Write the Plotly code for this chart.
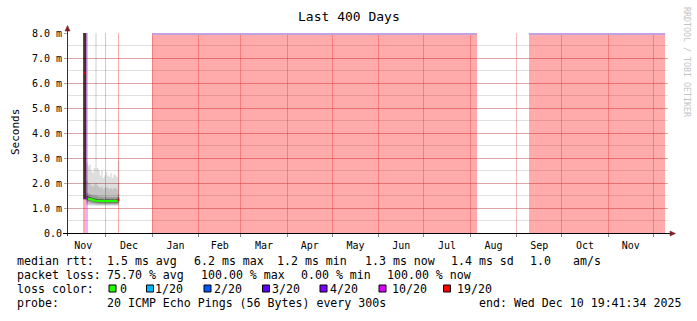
import pandas as pd
import plotly.graph_objects as go

nan = float("nan")

# ---------------- data ----------------
RANGE_START = "2024-11-05 19:41:34"
RANGE_END = "2025-12-10 19:41:34"

# daily slots with measurements
day_starts = list(pd.date_range("2024-11-16", "2024-12-09", freq="D").strftime("%Y-%m-%d"))
slots_end = "2024-12-10"

median_ms = [6.4, nan, 1.39, 1.37, 1.36, 1.34, 1.32, 1.30, 1.29, 1.29, 1.28, 1.29,
             1.28, 1.27, 1.26, 1.28, 1.28, 1.27, 1.28, 1.29, 1.27, 1.28, 1.29, 1.33]
loss_of_20 = [19, 10, 10, 0, 0, 0, 0, 0, 0, 0, 0, 0,
              0, 0, 0, 0, 0, 0, 0, 0, 0, 0, 0, 19]

smoke_min_ms = [1.35, 1.35, 1.12, 1.11, 1.10, 1.10, 1.10, 1.10, 1.10, 1.09, 1.09, 1.09,
                1.09, 1.09, 1.09, 1.09, 1.09, 1.09, 1.09, 1.09, 1.09, 1.09, 1.09, 1.10]
smoke_p10_ms = [1.35, 1.35, 1.16, 1.15, 1.15, 1.14, 1.14, 1.13, 1.13, 1.12, 1.12, 1.12,
                1.12, 1.12, 1.12, 1.12, 1.12, 1.12, 1.12, 1.12, 1.12, 1.12, 1.12, 1.14]
smoke_p25_ms = [1.35, 1.35, 1.25, 1.24, 1.22, 1.20, 1.19, 1.18, 1.18, 1.17, 1.17, 1.17,
                1.16, 1.16, 1.16, 1.16, 1.16, 1.16, 1.16, 1.16, 1.16, 1.16, 1.16, 1.20]
core_lo_ms = [1.35, 1.35, 1.33, 1.31, 1.30, 1.28, 1.26, 1.24, 1.23, 1.23, 1.22, 1.22,
              1.22, 1.21, 1.20, 1.22, 1.22, 1.21, 1.22, 1.22, 1.21, 1.22, 1.22, 1.27]
core_hi_ms = [12, 12, 1.48, 1.46, 1.44, 1.42, 1.40, 1.38, 1.37, 1.36, 1.35, 1.36,
              1.35, 1.34, 1.33, 1.35, 1.35, 1.34, 1.35, 1.36, 1.34, 1.35, 1.36, 1.42]
smoke_p75_ms = [12, 12, 1.60, 1.58, 1.55, 1.52, 1.50, 1.50, 1.50, 1.48, 1.46, 1.45,
                1.46, 1.44, 1.45, 1.46, 1.45, 1.44, 1.45, 1.44, 1.45, 1.45, 1.44, 1.55]
smoke_p90_ms = [12, 12, 2.10, 2.00, 2.00, 1.90, 1.85, 1.95, 2.00, 1.90, 1.85, 1.80,
                1.85, 1.75, 1.80, 1.85, 1.80, 1.75, 1.80, 1.75, 1.80, 1.80, 1.75, 2.00]
smoke_max_ms = [12, 12, 2.80, 2.70, 2.75, 2.50, 2.40, 2.60, 9.50, 2.60, 2.50, 2.30,
                2.50, 2.20, 2.30, 2.45, 2.30, 2.25, 2.40, 2.20, 2.35, 2.30, 2.25, 2.90]

# periods with 100 % packet loss
full_loss_start = ["2025-01-01 00:00", "2025-09-09 00:00"]
full_loss_end = ["2025-08-05 12:00", "2025-12-09 00:00"]

# legend
loss_levels = [0, 1, 2, 3, 4, 10, 19]
loss_labels = ["0", "1/20", "2/20", "3/20", "4/20", "10/20", "19/20"]
loss_colors = ["#26ff00", "#00b8ff", "#0059ff", "#5e00ff", "#7e00ff", "#dd00ff", "#ff0000"]

y_tickvals = [0, 1, 2, 3, 4, 5, 6, 7, 8]
y_ticktext = ["0.0", "1.0 m", "2.0 m", "3.0 m", "4.0 m", "5.0 m", "6.0 m", "7.0 m", "8.0 m"]

title_text = "Last 400 Days"
stats_rtt = ["median rtt:", "1.5 ms avg", "6.2 ms max", "1.2 ms min", "1.3 ms now", "1.4 ms sd", "1.0", "am/s"]
stats_loss = ["packet loss:", "75.70 % avg", "100.00 % max", "0.00 % min", "100.00 % now"]
probe_text = ["probe:", "20 ICMP Echo Pings (56 Bytes) every 300s", "end: Wed Dec 10 19:41:34 2025"]

# ---------------- layout geometry (pixels) ----------------
W, H = 697, 321
L, R, T, B = 68, 29, 33, 88
PW, PH = W - L - R, H - T - B
FONT = "DejaVu Sans Mono"


def X(px):
    return (px - L) / PW


def Y(py):
    return (T + PH - py) / PH


def hexa(c, a):
    c = c.lstrip("#")
    return "rgba(%d,%d,%d,%.3f)" % (int(c[0:2], 16), int(c[2:4], 16), int(c[4:6], 16), a)


fig = go.Figure()
days_ext = day_starts + [slots_end]
TOP = 8

# 100 % loss background
s = pd.to_datetime(full_loss_start, format="%Y-%m-%d %H:%M")
e = pd.to_datetime(full_loss_end, format="%Y-%m-%d %H:%M")
fig.add_trace(go.Bar(
    x=list(s + (e - s) / 2), y=[TOP] * len(s),
    width=[(b - a).total_seconds() * 1000 for a, b in zip(s, e)],
    marker=dict(color="rgba(255,0,0,0.33)", line=dict(width=0)),
    hoverinfo="skip", showlegend=False))

# partial loss background per slot
for lvl, col in zip(loss_levels, loss_colors):
    xs = [pd.Timestamp(d) + pd.Timedelta(hours=12) for d, l in zip(day_starts, loss_of_20) if l == lvl and l > 0]
    if not xs:
        continue
    fig.add_trace(go.Bar(
        x=xs, y=[TOP] * len(xs), width=[86400000] * len(xs),
        marker=dict(color=hexa(col, 0.33), line=dict(width=0)),
        hoverinfo="skip", showlegend=False))

# top edge line on full loss periods
tx, ty = [], []
for a, b in zip(full_loss_start, full_loss_end):
    tx += [a, b, None]
    ty += [7.96, 7.96, None]
fig.add_trace(go.Scatter(x=tx, y=ty, mode="lines", line=dict(color="#c2a2e2", width=2),
                         hoverinfo="skip", showlegend=False))

# smoke bands
bands = [
    (smoke_min_ms, smoke_max_ms, "rgba(0,0,0,0.13)"),
    (smoke_p10_ms, smoke_p90_ms, "rgba(0,0,0,0.12)"),
    (smoke_p25_ms, smoke_p75_ms, "rgba(0,0,0,0.20)"),
    (core_lo_ms, core_hi_ms, "rgba(0,0,0,0.55)"),
]
for lo, hi, col in bands:
    fig.add_trace(go.Scatter(x=days_ext, y=lo + [lo[-1]], mode="lines", line=dict(width=0, shape="hv"),
                             hoverinfo="skip", showlegend=False))
    fig.add_trace(go.Scatter(x=days_ext, y=hi + [hi[-1]], mode="lines", line=dict(width=0, shape="hv"),
                             fill="tonexty", fillcolor=col, hoverinfo="skip", showlegend=False))

# median line coloured by loss
for lvl, col in zip(loss_levels, loss_colors):
    xs, ys = [], []
    i, n = 0, len(day_starts)
    while i < n:
        if loss_of_20[i] == lvl and median_ms[i] == median_ms[i]:
            j = i
            while j < n and loss_of_20[j] == lvl and median_ms[j] == median_ms[j]:
                j += 1
            xs += days_ext[i:j + 1] + [None]
            ys += median_ms[i:j] + [median_ms[j - 1], None]
            i = j
        else:
            i += 1
    if xs:
        fig.add_trace(go.Scatter(x=xs, y=ys, mode="lines", line=dict(color=col, width=2, shape="hv"),
                                 hoverinfo="skip", showlegend=False))

GRID_MAJ = "rgba(220,50,50,0.33)"
GRID_MIN = "rgba(140,140,140,0.28)"

fig.update_layout(
    width=W, height=H, margin=dict(l=L, r=R, t=T, b=B),
    paper_bgcolor="white", plot_bgcolor="white",
    barmode="overlay", bargap=0, showlegend=False,
    font=dict(family=FONT, color="black"),
    xaxis=dict(type="date", range=[RANGE_START, RANGE_END], dtick="M1", tick0="2024-11-01",
               ticklabelmode="period", tickformat="%b", showgrid=True, gridcolor=GRID_MAJ, gridwidth=1,
               ticks="outside", ticklen=3, tickcolor="#888", showline=True, linecolor="black",
               linewidth=1, zeroline=False, tickfont=dict(family=FONT, size=10, color="black")),
    yaxis=dict(range=[0, 8], tickvals=y_tickvals, ticktext=y_ticktext, showgrid=True,
               gridcolor=GRID_MAJ, gridwidth=1, zeroline=False, showline=True, linecolor="#333",
               linewidth=1, ticks="outside", ticklen=3, tickcolor="#aaa",
               tickfont=dict(family=FONT, size=10, color="black"),
               minor=dict(dtick=0.5, tick0=0, showgrid=True, gridcolor=GRID_MIN, ticks="")),
)

# axis arrows / extensions
ARROW = "#7f1f1f"
shapes = [
    dict(type="line", xref="paper", yref="paper", x0=X(67.5), x1=X(67.5), y0=Y(236), y1=Y(28),
         line=dict(color="#333", width=1)),
    dict(type="path", xref="paper", yref="paper",
         path="M %f %f L %f %f L %f %f Z" % (X(65), Y(31), X(70), Y(31), X(67.5), Y(25.5)),
         fillcolor=ARROW, line=dict(color=ARROW, width=0.5)),
    dict(type="line", xref="paper", yref="paper", x0=X(63), x1=X(671), y0=Y(233.5), y1=Y(233.5),
         line=dict(color="black", width=1)),
    dict(type="path", xref="paper", yref="paper",
         path="M %f %f L %f %f L %f %f Z" % (X(670), Y(231), X(670), Y(236), X(675.5), Y(233.5)),
         fillcolor=ARROW, line=dict(color=ARROW, width=0.5)),
]

# legend colour boxes
box_x = [109, 146.5, 204, 262.5, 320, 379, 443.5]
for bx, col in zip(box_x, loss_colors):
    shapes.append(dict(type="rect", xref="paper", yref="paper", x0=X(bx), x1=X(bx + 7),
                       y0=Y(292), y1=Y(285), fillcolor=col, line=dict(color="black", width=1)))
fig.update_layout(shapes=shapes)


def txt(px, py, text, size=11.6, color="black", xanchor="left", angle=0):
    fig.add_annotation(x=X(px), y=Y(py), xref="paper", yref="paper", text=text, showarrow=False,
                       xanchor=xanchor, yanchor="middle", textangle=angle, borderpad=0,
                       font=dict(family=FONT, size=size, color=color))


txt(349, 16, title_text, size=13, xanchor="center")
txt(15, 132, "Seconds", size=11, xanchor="center", angle=-90)
txt(687, 62, "RRDTOOL / TOBI OETIKER", size=8.3, color="#c4c4c4", xanchor="center", angle=90)

for px, t in zip([15.5, 106, 192.5, 276, 364, 450, 529, 571.5], stats_rtt):
    txt(px, 261, t)
for px, t in zip([15.5, 106, 199.5, 299.5, 386], stats_loss):
    txt(px, 275.3, t)
txt(15.5, 288.7, "loss color:")
for px, t in zip([119, 154, 212.5, 271, 329, 391, 456], loss_labels):
    txt(px, 288.7, t)
for px, t in zip([15.5, 106, 478], probe_text):
    txt(px, 303.3, t)

fig.write_html("out.html", config={"displayModeBar": False})
